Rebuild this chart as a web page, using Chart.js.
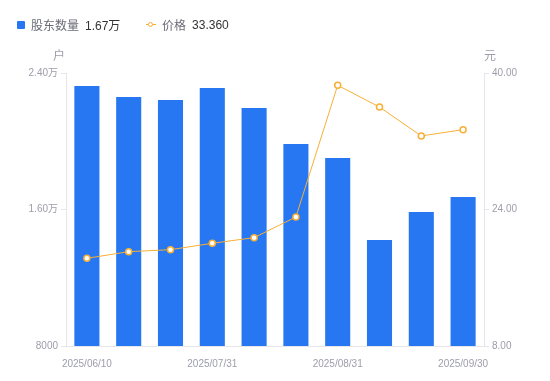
<!DOCTYPE html>
<html>
<head>
<meta charset="utf-8">
<script src="https://cdn.jsdelivr.net/npm/chart.js@4"></script>
<style>
  html, body { margin: 0; padding: 0; background: #fff; }
  #wrap { position: relative; width: 550px; height: 381px; }
  #legend { position: absolute; left: 17px; top: 16px; font: 12px "Liberation Sans", "Noto Sans CJK SC", sans-serif; color: #6b6b78; white-space: nowrap; }
  #legend span { display: inline-block; vertical-align: middle; }
  .val { color: #333; margin-left: 6px; }
  .sq { width: 8px; height: 8px; background: #2777f2; border-radius: 1px; margin-right: 6px; }
  .ln { position: relative; width: 10px; height: 8px; margin-right: 6px; }
  .ln i { position: absolute; left: 0; top: 3.5px; width: 10px; height: 1px; background: #f7b035; }
  .ln b { position: absolute; left: 2px; top: 1px; width: 3px; height: 3px; border: 1.5px solid #f7b035; border-radius: 50%; background: #fff; }
</style>
</head>
<body>
<div id="wrap">
  <div id="legend">
    <span class="sq"></span><span>股东数量</span><span class="val">1.67万</span>
    <span style="width:19px"></span>
    <span class="ln"><i></i><b></b></span><span>价格</span><span class="val">33.360</span>
  </div>
  <canvas id="chart" width="550" height="381"></canvas>
</div>
<script>
// reporting dates
const dates = ['2025/06/10', '2025/06/20', '2025/06/30', '2025/07/31', '2025/08/10',
               '2025/08/20', '2025/08/31', '2025/09/10', '2025/09/19', '2025/09/30'];
// number of shareholders (户)
const holders = [23240, 22590, 22420, 23120, 21950, 19840, 19020, 14210, 15850, 16730];
// share price (元)
const prices = [18.28, 19.06, 19.29, 20.04, 20.70, 23.12, 38.56, 36.01, 32.62, 33.36];
const shownDates = ['2025/06/10', '2025/07/31', '2025/08/31', '2025/09/30'];

const tickColor = '#9d9dab';
const lineColor = '#e6e6ea';
const fontFamily = '"Liberation Sans", "Noto Sans CJK SC", sans-serif';

// unit labels above the two value axes
const unitTitles = {
  id: 'unitTitles',
  afterDraw(chart) {
    const ctx = chart.ctx;
    const top = chart.chartArea.top;
    ctx.save();
    ctx.font = '12px ' + fontFamily;
    ctx.fillStyle = tickColor;
    ctx.textAlign = 'center';
    ctx.textBaseline = 'middle';
    ctx.fillText('户', chart.scales.y.right - 7, top - 16);
    ctx.fillText('元', chart.scales.y1.left + 6, top - 16);
    ctx.restore();
  }
};

new Chart(document.getElementById('chart'), {
  data: {
    labels: dates,
    datasets: [
      {
        type: 'line',
        label: '价格',
        data: prices,
        yAxisID: 'y1',
        borderColor: '#f7b035',
        borderWidth: 1,
        pointRadius: 3,
        pointBorderWidth: 1.5,
        pointBackgroundColor: '#fff',
        pointBorderColor: '#f7b035',
        tension: 0,
        order: 1
      },
      {
        type: 'bar',
        label: '股东数量',
        data: holders,
        yAxisID: 'y',
        backgroundColor: '#2777f2',
        barPercentage: 0.6,
        categoryPercentage: 1,
        order: 2
      }
    ]
  },
  options: {
    responsive: false,
    animation: false,
    layout: { padding: { top: 73, left: 0, right: 0, bottom: 0 } },
    plugins: {
      legend: { display: false },
      tooltip: { enabled: false }
    },
    scales: {
      x: {
        grid: { display: false },
        border: { color: lineColor },
        ticks: {
          autoSkip: false,
          maxRotation: 0,
          color: tickColor,
          font: { family: fontFamily, size: 10 },
          padding: 4,
          callback(v) { const d = dates[v]; return shownDates.includes(d) ? d : ''; }
        },
        afterFit(s) { s.height = 35; }
      },
      y: {
        position: 'left',
        min: 8000,
        max: 24000,
        grid: { drawOnChartArea: false, color: lineColor, tickLength: 5 },
        border: { color: lineColor },
        ticks: {
          stepSize: 8000,
          color: tickColor,
          padding: 3,
          font: { family: fontFamily, size: 10 },
          callback(v) { return v >= 10000 ? (v / 10000).toFixed(2) + '万' : String(v); }
        },
        afterFit(s) { s.width = 66; }
      },
      y1: {
        position: 'right',
        min: 8,
        max: 40,
        grid: { drawOnChartArea: false, color: lineColor, tickLength: 5 },
        border: { color: lineColor },
        ticks: {
          stepSize: 16,
          color: tickColor,
          padding: 3,
          font: { family: fontFamily, size: 10 },
          callback(v) { return v.toFixed(2); }
        },
        afterFit(s) { s.width = 66; }
      }
    }
  },
  plugins: [unitTitles]
});
</script>
</body>
</html>
